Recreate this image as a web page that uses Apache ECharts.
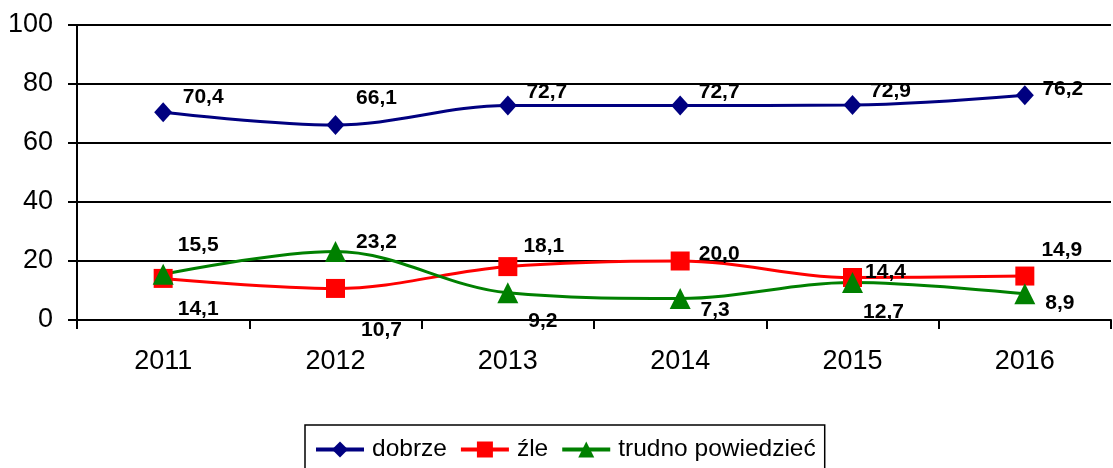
<!DOCTYPE html>
<html>
<head>
<meta charset="utf-8">
<script src="https://cdn.jsdelivr.net/npm/echarts@6/dist/echarts.min.js"></script>
<style>
  html, body { margin: 0; padding: 0; background: #fff; }
  #chart { width: 1113px; height: 468px; }
</style>
</head>
<body>
<div id="chart"></div>
<script>
const years = ['2011', '2012', '2013', '2014', '2015', '2016']
const dobrze = [70.4, 66.1, 72.7, 72.7, 72.9, 76.2]
const zle = [14.1, 10.7, 18.1, 20.0, 14.4, 14.9]
const trudno = [15.5, 23.2, 9.2, 7.3, 12.7, 8.9]
const yTicks = [0, 20, 40, 60, 80, 100]

// przesunięcia etykiet względem punktu (jak w oryginale z Excela)
const offDobrze = [[40, -15], [41, -27], [39, -13], [39, -13], [38, -14], [38, -6]]
const offZle = [[35, 31], [46, 42], [36, -20], [39, -7], [33, -5], [37, -26]]
const offTrudno = [[35, -29], [41, -9], [35, 28], [35, 12], [31, 30], [35, 9]]

const fmt = v => v.toFixed(1).replace('.', ',')

function points (values, offsets) {
  return values.map((v, i) => ({
    value: v,
    label: { offset: offsets[i] }
  }))
}

function makeSeries (name, values, offsets, color, symbol, size) {
  return {
    name: name,
    type: 'line',
    smooth: 0.35,
    data: points(values, offsets),
    symbol: symbol,
    symbolSize: size,
    lineStyle: { color: color, width: 3 },
    itemStyle: { color: color },
    label: {
      show: true,
      position: 'inside',
      color: '#000',
      fontFamily: 'Liberation Sans',
      fontWeight: 'bold',
      fontSize: 21,
      formatter: p => fmt(p.value)
    },
    emphasis: { disabled: true },
    z: 3
  }
}

const chart = echarts.init(document.getElementById('chart'), null, { renderer: 'canvas' })
const option = {
  animation: false,
  backgroundColor: '#fff',
  grid: { left: 77, right: 2, top: 25, bottom: 148 },
  legend: {
    left: 305,
    top: 425,
    padding: [12, 9, 20, 9],
    borderColor: '#000',
    borderWidth: 1.5,
    itemWidth: 48,
    itemHeight: 20,
    itemGap: 12,
    lineStyle: { width: 4 },
    textStyle: { fontFamily: 'Liberation Sans', fontSize: 24.5, color: '#000', padding: [0, 0, 0, 3] },
    data: ['dobrze', 'źle', 'trudno powiedzieć']
  },
  xAxis: {
    type: 'category',
    data: years,
    boundaryGap: true,
    axisLine: { lineStyle: { color: '#000', width: 2 } },
    axisTick: { show: true, length: 9, lineStyle: { color: '#000', width: 2 } },
    axisLabel: { color: '#000', fontFamily: 'Liberation Sans', fontSize: 27, margin: 28 }
  },
  yAxis: {
    type: 'value',
    min: yTicks[0],
    max: yTicks[yTicks.length - 1],
    interval: 20,
    axisLine: { show: true, lineStyle: { color: '#000', width: 2 } },
    axisTick: { show: true, length: 9, lineStyle: { color: '#000', width: 2 } },
    axisLabel: { color: '#000', fontFamily: 'Liberation Sans', fontSize: 27, margin: 24 },
    splitLine: { lineStyle: { color: '#000', width: 2 } }
  },
  series: [
    makeSeries('dobrze', dobrze, offDobrze, '#000080', 'diamond', [18, 20]),
    makeSeries('źle', zle, offZle, '#ff0000', 'rect', 19),
    makeSeries('trudno powiedzieć', trudno, offTrudno, '#008000', 'triangle', 21)
  ]
}
chart.setOption(option)
</script>
</body>
</html>
